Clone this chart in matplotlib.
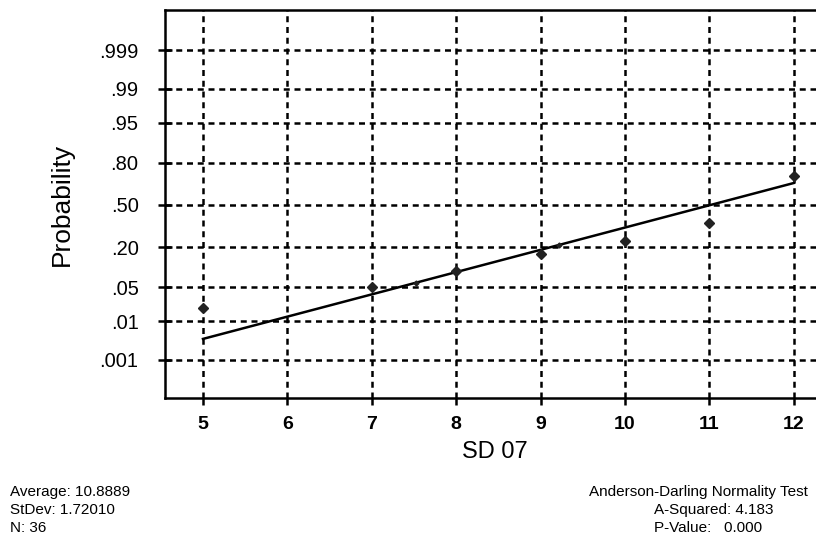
"""Normal probability plot for SD 07 with Anderson-Darling summary."""
from statistics import NormalDist

import numpy as np
import matplotlib
matplotlib.use("Agg")
import matplotlib.pyplot as plt

# Values
x_ticks = [5, 6, 7, 8, 9, 10, 11, 12]
p_ticks = [0.001, 0.01, 0.05, 0.20, 0.50, 0.80, 0.95, 0.99, 0.999]
p_labels = [".001", ".01", ".05", ".20", ".50", ".80", ".95", ".99", ".999"]

# data points (value, cumulative probability)
pts_x = [5, 7, 8, 9, 10, 11, 12]
pts_p = [0.0197, 0.050, 0.093, 0.163, 0.236, 0.36, 0.72]
# small dots sitting on the fit line
dots_x = [7.52, 9.22]
dots_p = [0.060, 0.212]

# fitted line endpoints
fit_x = [5, 12]
fit_p = [0.0037, 0.67]

stats_left = ["Average: 10.8889", "StDev: 1.72010", "N: 36"]
stats_right = ["Anderson-Darling Normality Test", "A-Squared: 4.183", "P-Value:   0.000"]

_nd = NormalDist()


def _probit(p):
    p = np.clip(np.asarray(p, dtype=float), 1e-9, 1 - 1e-9)
    return np.vectorize(_nd.inv_cdf, otypes=[float])(p)


def _cdf(z):
    return np.vectorize(_nd.cdf, otypes=[float])(np.asarray(z, dtype=float))


plt.rcParams['font.family'] = ['Liberation Sans', 'DejaVu Sans']

fig = plt.figure(figsize=(8.16, 5.46), dpi=100)
ax = fig.add_axes([165 / 816, 1 - 398 / 546, 1 - 165 / 816 + 0.01, 388 / 546])

ax.set_yscale('function', functions=(_probit, _cdf))
ax.set_ylim(_nd.cdf(-3.86), _nd.cdf(3.9))
ax.set_xlim(4.55, 12.36)

# grid
grid_kw = dict(color='black', lw=1.8, dashes=(2.4, 1.9), zorder=1)
for xv in x_ticks:
    ax.axvline(xv, **grid_kw)
for pv in p_ticks:
    ax.axhline(pv, **grid_kw)

# fit line and points
ax.plot(fit_x, fit_p, color='black', lw=1.8, zorder=3)
ax.plot(pts_x, pts_p, ls='none', marker='D', ms=5, color='#222222', zorder=4)
ax.plot(dots_x, dots_p, ls='none', marker='D', ms=2.5, color='#222222', zorder=4)

ax.set_xticks(x_ticks)
ax.set_xticklabels([str(v) for v in x_ticks], fontsize=14, fontweight='bold')
ax.set_yticks(p_ticks)
ax.set_yticklabels(p_labels, fontsize=14.5)
ax.minorticks_off()
ax.tick_params(axis='x', direction='out', length=5, width=1.8, pad=8)
ax.tick_params(axis='y', direction='inout', length=10, width=1.8, pad=14)

for side in ['left', 'bottom', 'top']:
    ax.spines[side].set_linewidth(1.8)
ax.spines['right'].set_visible(False)

ax.set_ylabel("Probability", fontsize=19, labelpad=18)
ax.set_xlabel("SD 07", fontsize=17, labelpad=6)

# summary text
for i, s in enumerate(stats_left):
    fig.text(10 / 816, 1 - (492 + 18 * i) / 546, s, fontsize=11,
             ha='left', va='center')
fig.text(808 / 816, 1 - 492 / 546, stats_right[0], fontsize=11,
         ha='right', va='center')
for i, s in enumerate(stats_right[1:]):
    fig.text(654 / 816, 1 - (510 + 18 * i) / 546, s, fontsize=11,
             ha='left', va='center')

fig.savefig("out.png", dpi=100)
